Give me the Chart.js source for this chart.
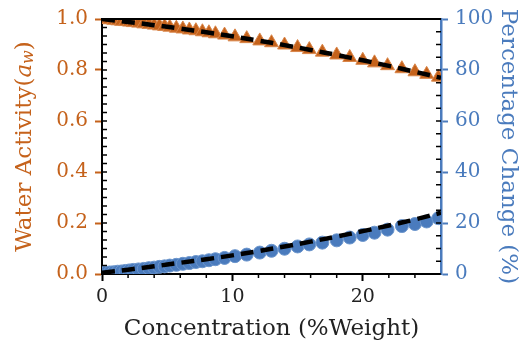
<!DOCTYPE html>
<html lang="en">
<head>
    <meta charset="UTF-8">
    <title>Water Activity vs Concentration</title>
    <script src="https://cdn.jsdelivr.net/npm/chart.js"></script>
    <style>
        body { margin: 0; background: #fff; }
    </style>
</head>
<body>
    <canvas id="awChart" width="522" height="347"></canvas>

    <script>
        // measured points
        const concentration = [0, 0.3, 0.6, 0.9, 1.2, 1.5, 1.8, 2.1, 2.4, 2.8, 3.2, 3.6, 4.0, 4.4, 4.8, 5.2, 5.7, 6.2, 6.7, 7.2, 7.7, 8.2, 8.7, 9.4, 10.2, 11.1, 12.1, 13.0, 14.0, 15.0, 15.9, 16.9, 18.0, 19.0, 20.0, 20.9, 21.9, 23.0, 24.0, 24.9, 25.8];
        const waterActivity = [1.000, 0.998, 0.997, 0.995, 0.993, 0.991, 0.990, 0.988, 0.986, 0.984, 0.981, 0.979, 0.976, 0.973, 0.971, 0.968, 0.964, 0.961, 0.957, 0.954, 0.950, 0.946, 0.942, 0.937, 0.930, 0.923, 0.914, 0.907, 0.898, 0.888, 0.880, 0.870, 0.859, 0.849, 0.838, 0.828, 0.817, 0.805, 0.793, 0.783, 0.772];
        const percentChange = [0.4, 0.5, 0.6, 0.7, 0.9, 1.0, 1.2, 1.4, 1.6, 1.8, 2.0, 2.3, 2.5, 2.8, 3.0, 3.3, 3.6, 4.0, 4.3, 4.7, 5.0, 5.4, 5.8, 6.3, 7.0, 7.6, 8.4, 9.1, 9.9, 10.8, 11.6, 12.3, 13.2, 14.3, 15.3, 16.2, 17.4, 18.8, 19.6, 20.6, 21.9];

        // fitted curves
        const fitConcentration = [0, 2, 4, 6, 8, 10, 12, 14, 16, 18, 20, 22, 24, 26];
        const fitWaterActivity = [1.000, 0.9885, 0.9759, 0.9623, 0.9477, 0.932, 0.9153, 0.8975, 0.8787, 0.8589, 0.838, 0.8161, 0.7931, 0.7691];
        const fitPercentChange = [0.5, 1.7, 3.0, 4.4, 5.8, 7.3, 9.0, 10.8, 12.7, 14.7, 16.8, 19.0, 21.4, 24.0];

        // tick labels
        const xTicks = [0, 10, 20];
        const leftTicks = [0, 0.2, 0.4, 0.6, 0.8, 1.0];
        const rightTicks = [0, 20, 40, 60, 80, 100];

        const orange = '#c5621b';
        const blue = '#4a7bbd';
        const serif = 'DejaVu Serif';

        const toPoints = (xs, ys) => xs.map((x, i) => ({ x: x, y: ys[i] }));
        const fixTicks = list => s => { s.ticks = list.map(v => ({ value: v })); };

        // spines, minor ticks and the left title with its subscript
        const framePlugin = {
            id: 'frame',
            afterDraw(chart) {
                const ctx = chart.ctx;
                const area = chart.chartArea;
                const xs = chart.scales.x, yl = chart.scales.y, yr = chart.scales.y1;
                ctx.save();
                ctx.strokeStyle = 'black';
                ctx.lineWidth = 2;
                ctx.beginPath();
                ctx.moveTo(area.left - 1, area.top);
                ctx.lineTo(area.right, area.top);
                ctx.stroke();

                ctx.lineWidth = 1.5;
                // bottom minor ticks (outward)
                for (let v = 2; v < 26; v += 2) {
                    if (v % 10 === 0) continue;
                    const px = xs.getPixelForValue(v);
                    ctx.beginPath();
                    ctx.moveTo(px, area.bottom);
                    ctx.lineTo(px, area.bottom + 4);
                    ctx.stroke();
                }
                // left inward ticks
                for (let i = 0; i <= 30; i++) {
                    const py = yl.getPixelForValue(i / 30);
                    ctx.beginPath();
                    ctx.moveTo(area.left, py);
                    ctx.lineTo(area.left + 5, py);
                    ctx.stroke();
                }
                // right inward ticks
                for (let v = 0; v <= 100; v += 5) {
                    const py = yr.getPixelForValue(v);
                    ctx.beginPath();
                    ctx.moveTo(area.right, py);
                    ctx.lineTo(area.right - 5, py);
                    ctx.stroke();
                }

                // left axis title: Water Activity(a_w)
                const size = 23;
                const parts = [
                    { t: 'Water Activity(', f: size + 'px "' + serif + '"', dy: 0 },
                    { t: 'a', f: 'italic ' + size + 'px "' + serif + '"', dy: 0 },
                    { t: 'w', f: 'italic ' + Math.round(size * 0.7) + 'px "' + serif + '"', dy: 4 },
                    { t: ')', f: size + 'px "' + serif + '"', dy: 0 }
                ];
                let total = 0;
                parts.forEach(p => { ctx.font = p.f; p.w = ctx.measureText(p.t).width; total += p.w; });
                ctx.translate(25, (area.top + area.bottom) / 2);
                ctx.rotate(-Math.PI / 2);
                ctx.fillStyle = orange;
                ctx.textBaseline = 'middle';
                let cx = -total / 2;
                parts.forEach(p => {
                    ctx.font = p.f;
                    ctx.fillText(p.t, cx, p.dy);
                    cx += p.w;
                });
                ctx.restore();
            }
        };

        const fitLine = {
            showLine: true,
            borderColor: 'black',
            borderWidth: 4.5,
            borderDash: [13, 7],
            pointRadius: 0,
            tension: 0.4,
            order: 0
        };

        const ctx = document.getElementById('awChart').getContext('2d');
        new Chart(ctx, {
            type: 'scatter',
            data: {
                datasets: [
                    Object.assign({
                        label: 'Water activity fit',
                        data: toPoints(fitConcentration, fitWaterActivity),
                        yAxisID: 'y'
                    }, fitLine),
                    Object.assign({
                        label: 'Percentage change fit',
                        data: toPoints(fitConcentration, fitPercentChange),
                        yAxisID: 'y1'
                    }, fitLine),
                    {
                        label: 'Water activity',
                        data: toPoints(concentration, waterActivity),
                        yAxisID: 'y',
                        pointStyle: 'triangle',
                        pointRadius: 8,
                        backgroundColor: orange,
                        borderColor: '#d9864a',
                        borderWidth: 1,
                        order: 1
                    },
                    {
                        label: 'Percentage change',
                        data: toPoints(concentration, percentChange),
                        yAxisID: 'y1',
                        pointStyle: 'circle',
                        pointRadius: 6.5,
                        backgroundColor: blue,
                        borderColor: '#6b95cc',
                        borderWidth: 1,
                        order: 1
                    }
                ]
            },
            options: {
                responsive: false,
                animation: false,
                layout: { padding: { top: 19 } },
                plugins: {
                    legend: { display: false },
                    tooltip: { enabled: false }
                },
                scales: {
                    x: {
                        type: 'linear',
                        min: 0,
                        max: 26,
                        afterBuildTicks: fixTicks(xTicks),
                        afterFit: s => { s.height = 73; },
                        border: { display: true, color: 'black', width: 2 },
                        grid: { drawOnChartArea: false, color: 'black', tickLength: 7, tickWidth: 2 },
                        ticks: {
                            color: '#222',
                            padding: 5,
                            font: { family: serif, size: 19 }
                        },
                        title: {
                            display: true,
                            text: 'Concentration (%Weight)',
                            color: '#222',
                            padding: { top: 3 },
                            font: { family: serif, size: 23 }
                        }
                    },
                    y: {
                        position: 'left',
                        min: 0,
                        max: 1,
                        afterBuildTicks: fixTicks(leftTicks),
                        afterFit: s => { s.width = 102; },
                        border: { display: true, color: 'black', width: 2 },
                        grid: { drawOnChartArea: false, color: orange, tickLength: 7, tickWidth: 2 },
                        ticks: {
                            color: orange,
                            padding: 7,
                            font: { family: serif, size: 20 },
                            callback: v => v.toFixed(1)
                        }
                    },
                    y1: {
                        position: 'right',
                        min: 0,
                        max: 100,
                        afterBuildTicks: fixTicks(rightTicks),
                        afterFit: s => { s.width = 81; },
                        border: { display: true, color: blue, width: 2.5 },
                        grid: { drawOnChartArea: false, color: blue, tickLength: 7, tickWidth: 2 },
                        ticks: {
                            color: blue,
                            padding: 7,
                            font: { family: serif, size: 20 }
                        },
                        title: {
                            display: true,
                            text: 'Percentage Change (%)',
                            color: blue,
                            padding: 0,
                            font: { family: serif, size: 23 }
                        }
                    }
                }
            },
            plugins: [framePlugin]
        });
    </script>
</body>
</html>
